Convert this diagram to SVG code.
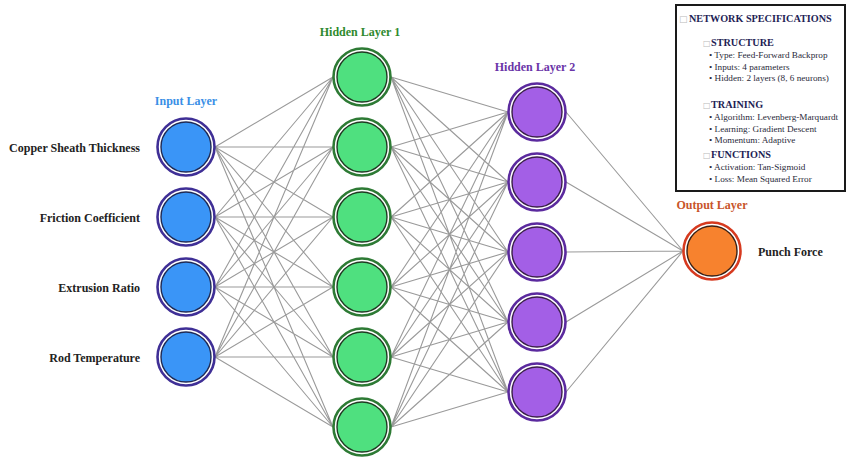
<svg xmlns="http://www.w3.org/2000/svg" width="848" height="457" viewBox="0 0 848 457">
<style>
.ln{stroke:#9a9a9a;stroke-width:1.1;fill:none}
.ring{fill:#fff;stroke-width:2.6}
.core{stroke-width:1.4}
.in .ring{stroke:#3f2f96}.in .core{fill:#3a95f7;stroke:#1f2a55}
.h1 .ring{stroke:#2d7a34}.h1 .core{fill:#4fe07f;stroke:#1f3a22}
.h2 .ring{stroke:#5b2a9e}.h2 .core{fill:#a35fe6;stroke:#3a1f4a}
.out .ring{stroke:#d63a1f}.out .core{fill:#f7822e;stroke:#3a2015}
.lbl{font-family:"Liberation Serif",serif;font-weight:bold;font-size:12px;fill:#222}
.ttl{font-family:"Liberation Serif",serif;font-weight:bold;font-size:12px;text-anchor:middle}
.sh{font-family:"Liberation Serif",serif;font-weight:bold;font-size:10.2px;fill:#1e1e55}
.it{font-family:"Liberation Serif",serif;font-size:9.2px;fill:#2a2a3a}
.bx{fill:#bbb;font-family:"DejaVu Sans",sans-serif}
</style>
<rect width="848" height="457" fill="#fff"/>
<g id="connectors">
<path class="ln" d="M215 147L333 77M215 147L333 147M215 147L333 217M215 147L333 287M215 147L333 357M215 147L333 427M215 217L333 77M215 217L333 147M215 217L333 217M215 217L333 287M215 217L333 357M215 217L333 427M215 287L333 77M215 287L333 147M215 287L333 217M215 287L333 287M215 287L333 357M215 287L333 427M215 357L333 77M215 357L333 147M215 357L333 217M215 357L333 287M215 357L333 357M215 357L333 427"/>
<path class="ln" d="M391 77L508 112M391 77L508 182M391 77L508 252M391 77L508 322M391 77L508 392M391 147L508 112M391 147L508 182M391 147L508 252M391 147L508 322M391 147L508 392M391 217L508 112M391 217L508 182M391 217L508 252M391 217L508 322M391 217L508 392M391 287L508 112M391 287L508 182M391 287L508 252M391 287L508 322M391 287L508 392M391 357L508 112M391 357L508 182M391 357L508 252M391 357L508 322M391 357L508 392M391 427L508 112M391 427L508 182M391 427L508 252M391 427L508 322M391 427L508 392"/>
<path class="ln" d="M566 112L683 251M566 182L683 251M566 252L683 251M566 322L683 251M566 392L683 251"/>
</g>
<g id="input-layer" class="in">
<text class="ttl" x="186" y="105" fill="#3a8fe6">Input Layer</text>
<g id="in1"><circle class="ring" cx="186" cy="147" r="28.5"/><circle class="core" cx="186" cy="147" r="25"/><text class="lbl" x="140" y="152" text-anchor="end">Copper Sheath Thickness</text></g>
<g id="in2"><circle class="ring" cx="186" cy="217" r="28.5"/><circle class="core" cx="186" cy="217" r="25"/><text class="lbl" x="140" y="222" text-anchor="end">Friction Coefficient</text></g>
<g id="in3"><circle class="ring" cx="186" cy="287" r="28.5"/><circle class="core" cx="186" cy="287" r="25"/><text class="lbl" x="140" y="292" text-anchor="end">Extrusion Ratio</text></g>
<g id="in4"><circle class="ring" cx="186" cy="357" r="28.5"/><circle class="core" cx="186" cy="357" r="25"/><text class="lbl" x="140" y="362" text-anchor="end">Rod Temperature</text></g>
</g>
<g id="hidden-layer-1" class="h1">
<text class="ttl" x="360" y="36" fill="#2e8a2e">Hidden Layer 1</text>
<g id="h1n1"><circle class="ring" cx="362" cy="77" r="28.5"/><circle class="core" cx="362" cy="77" r="25"/></g>
<g id="h1n2"><circle class="ring" cx="362" cy="147" r="28.5"/><circle class="core" cx="362" cy="147" r="25"/></g>
<g id="h1n3"><circle class="ring" cx="362" cy="217" r="28.5"/><circle class="core" cx="362" cy="217" r="25"/></g>
<g id="h1n4"><circle class="ring" cx="362" cy="287" r="28.5"/><circle class="core" cx="362" cy="287" r="25"/></g>
<g id="h1n5"><circle class="ring" cx="362" cy="357" r="28.5"/><circle class="core" cx="362" cy="357" r="25"/></g>
<g id="h1n6"><circle class="ring" cx="362" cy="427" r="28.5"/><circle class="core" cx="362" cy="427" r="25"/></g>
</g>
<g id="hidden-layer-2" class="h2">
<text class="ttl" x="535" y="71" fill="#6a35a8">Hidden Layer 2</text>
<g id="h2n1"><circle class="ring" cx="537" cy="112" r="28.5"/><circle class="core" cx="537" cy="112" r="25"/></g>
<g id="h2n2"><circle class="ring" cx="537" cy="182" r="28.5"/><circle class="core" cx="537" cy="182" r="25"/></g>
<g id="h2n3"><circle class="ring" cx="537" cy="252" r="28.5"/><circle class="core" cx="537" cy="252" r="25"/></g>
<g id="h2n4"><circle class="ring" cx="537" cy="322" r="28.5"/><circle class="core" cx="537" cy="322" r="25"/></g>
<g id="h2n5"><circle class="ring" cx="537" cy="392" r="28.5"/><circle class="core" cx="537" cy="392" r="25"/></g>
</g>
<g id="output-layer" class="out">
<text class="ttl" x="712" y="209" fill="#c8552a">Output Layer</text>
<g id="out1"><circle class="ring" cx="712" cy="251" r="28.5"/><circle class="core" cx="712" cy="251" r="25"/><text class="lbl" x="758" y="256">Punch Force</text></g>
</g>
<g id="specs">
<rect x="676" y="5" width="169" height="186" fill="#fff" stroke="#1a1a1a" stroke-width="2"/>
<text class="bx" x="679" y="22" font-size="9">□</text>
<text class="sh" x="689" y="22">NETWORK SPECIFICATIONS</text>
<text class="bx" x="703" y="46" font-size="8">□</text>
<text class="sh" x="711" y="46">STRUCTURE</text>
<text class="it" x="709" y="58">• Type: Feed-Forward Backprop</text>
<text class="it" x="709" y="69.5">• Inputs: 4 parameters</text>
<text class="it" x="709" y="81">• Hidden: 2 layers (8, 6 neurons)</text>
<text class="bx" x="703" y="108" font-size="8">□</text>
<text class="sh" x="711" y="108">TRAINING</text>
<text class="it" x="709" y="120">• Algorithm: Levenberg-Marquardt</text>
<text class="it" x="709" y="131.5">• Learning: Gradient Descent</text>
<text class="it" x="709" y="143">• Momentum: Adaptive</text>
<text class="bx" x="703" y="158" font-size="8">□</text>
<text class="sh" x="711" y="158">FUNCTIONS</text>
<text class="it" x="709" y="170">• Activation: Tan-Sigmoid</text>
<text class="it" x="709" y="181.5">• Loss: Mean Squared Error</text>
</g>
</svg>
